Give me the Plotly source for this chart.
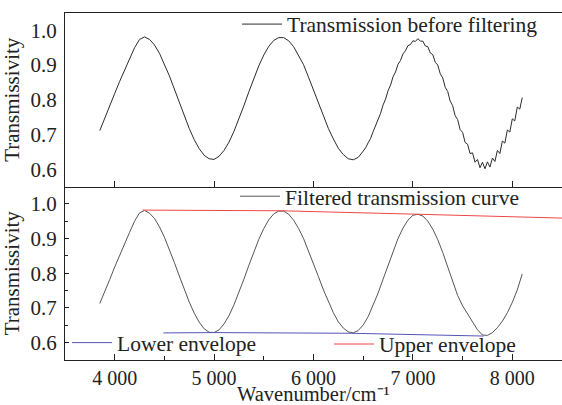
import plotly.graph_objects as go

# ---------------- data ----------------
# raw (unfiltered) transmission: smooth part (step 50) + noisy part (step 25)
raw_x_smooth = list(range(3850, 6500, 50))
raw_y_smooth = [
    0.711, 0.745, 0.782, 0.818, 0.853, 0.886, 0.918, 0.950, 0.974, 0.981,
    0.974, 0.958, 0.934, 0.904, 0.869, 0.831, 0.792, 0.753, 0.717, 0.685,
    0.659, 0.640, 0.630, 0.628, 0.637, 0.654, 0.678, 0.709, 0.745, 0.783,
    0.823, 0.862, 0.898, 0.929, 0.954, 0.971, 0.979, 0.979, 0.970, 0.953,
    0.929, 0.901, 0.865, 0.828, 0.791, 0.752, 0.717, 0.687, 0.660, 0.642,
    0.630, 0.627, 0.634,
]
raw_x_noisy = list(range(6500, 8101, 25))
raw_y_noisy = [
    0.652, 0.662, 0.676, 0.689, 0.708, 0.724, 0.745, 0.761, 0.785, 0.802,
    0.826, 0.842, 0.866, 0.880, 0.902, 0.913, 0.932, 0.941, 0.956, 0.959,
    0.970, 0.968, 0.976, 0.969, 0.969, 0.955, 0.953, 0.935, 0.930, 0.908,
    0.900, 0.875, 0.863, 0.836, 0.824, 0.796, 0.783, 0.754, 0.743, 0.714,
    0.706, 0.677, 0.672, 0.645, 0.647, 0.620, 0.628, 0.604, 0.620, 0.601,
    0.621, 0.606, 0.632, 0.622, 0.654, 0.645, 0.681, 0.675, 0.713, 0.707,
    0.745, 0.739, 0.779, 0.773, 0.806,
]
raw_x = raw_x_smooth + raw_x_noisy
raw_y = raw_y_smooth + raw_y_noisy

# filtered transmission curve
filt_x = list(range(3850, 8101, 50))
filt_y = [
    0.713, 0.745, 0.782, 0.818, 0.853, 0.886, 0.918, 0.950, 0.974, 0.981,
    0.973, 0.958, 0.934, 0.904, 0.869, 0.831, 0.792, 0.753, 0.717, 0.685,
    0.659, 0.640, 0.630, 0.629, 0.637, 0.654, 0.678, 0.709, 0.745, 0.783,
    0.823, 0.862, 0.898, 0.929, 0.954, 0.971, 0.979, 0.979, 0.970, 0.953,
    0.929, 0.900, 0.865, 0.828, 0.790, 0.752, 0.717, 0.686, 0.660, 0.642,
    0.631, 0.628, 0.635, 0.651, 0.675, 0.707, 0.743, 0.783, 0.824, 0.864,
    0.900, 0.930, 0.953, 0.967, 0.970, 0.965, 0.950, 0.927, 0.897, 0.860,
    0.820, 0.779, 0.736, 0.706, 0.682, 0.658, 0.637, 0.622, 0.621, 0.629,
    0.643, 0.662, 0.686, 0.716, 0.752, 0.798,
]

# envelopes
upper_x = [4280, 5680, 7055, 8500]
upper_y = [0.982, 0.980, 0.970, 0.959]
lower_x = [4490, 4983, 6385, 7712]
lower_y = [0.628, 0.629, 0.627, 0.619]

x_ticks = [4000, 5000, 6000, 7000, 8000]
x_tick_text = ["4 000", "5 000", "6 000", "7 000", "8 000"]
y_ticks = [0.6, 0.7, 0.8, 0.9, 1.0]
y_tick_text = ["0.6", "0.7", "0.8", "0.9", "1.0"]

# ---------------- figure ----------------
FONT = "Liberation Serif"
FS = 21
fig = go.Figure()

fig.add_trace(go.Scatter(x=raw_x, y=raw_y, mode="lines", xaxis="x", yaxis="y",
                         line=dict(color="#2b2b2b", width=1),
                         name="Transmission before filtering", legend="legend"))
fig.add_trace(go.Scatter(x=filt_x, y=filt_y, mode="lines", xaxis="x2", yaxis="y2",
                         line=dict(color="#555555", width=1),
                         name="Filtered transmission curve", legend="legend2"))
fig.add_trace(go.Scatter(x=lower_x, y=lower_y, mode="lines", xaxis="x2", yaxis="y2",
                         line=dict(color="rgb(85,85,185)", width=1),
                         name="Lower envelope", legend="legend3"))
fig.add_trace(go.Scatter(x=upper_x, y=upper_y, mode="lines", xaxis="x2", yaxis="y2",
                         line=dict(color="rgb(240,70,70)", width=1),
                         name="Upper envelope", legend="legend4"))

axis_common = dict(showline=True, linecolor="#222", linewidth=1, showgrid=False,
                   zeroline=False, tickcolor="#222", ticks="inside", automargin=False)

leg_common = dict(bgcolor="rgba(0,0,0,0)", borderwidth=0, xanchor="left",
                  yanchor="middle", font=dict(family=FONT, size=21.5, color="#222"),
                  itemclick=False, itemwidth=40)

fig.update_layout(
    width=562, height=405,
    margin=dict(l=65, r=0, t=13, b=45, autoexpand=False),
    paper_bgcolor="white", plot_bgcolor="white",
    font=dict(family=FONT, size=FS, color="#222"),
    showlegend=True,
    xaxis=dict(domain=[0, 1], anchor="y", range=[3500, 8500], tickvals=x_ticks,
               showticklabels=False, ticklen=6, mirror=True, **axis_common),
    yaxis=dict(domain=[0.5, 1], anchor="x", range=[0.55, 1.05], tickvals=y_ticks,
               ticktext=y_tick_text, ticklen=0, ticklabelstandoff=3,
               tickfont=dict(family=FONT, size=FS, color="#222"),
               title=dict(text="Transmissivity", standoff=5,
                          font=dict(family=FONT, size=FS)), **axis_common),
    xaxis2=dict(domain=[0, 1], anchor="y2", range=[3500, 8500], tickvals=x_ticks,
                ticktext=x_tick_text, ticklen=6, ticklabelstandoff=0,
                tickfont=dict(family=FONT, size=20, color="#222"),
                minor=dict(dtick=500, tick0=3500, ticks="inside", ticklen=4, tickcolor="#222"),
                **axis_common),
    yaxis2=dict(domain=[0, 0.5], anchor="x2", range=[0.55, 1.05], tickvals=y_ticks,
                ticktext=y_tick_text, ticklen=4, ticklabelstandoff=3,
                tickfont=dict(family=FONT, size=FS, color="#222"),
                minor=dict(dtick=0.05, tick0=0.55, ticks="inside", ticklen=3, tickcolor="#222"),
                title=dict(text="Transmissivity", standoff=5,
                           font=dict(family=FONT, size=FS)), **axis_common),
    annotations=[dict(text="Wavenumber/cm⁻¹", xref="paper", yref="paper",
                      x=0.5, y=-34 / 347, xanchor="center", yanchor="middle",
                      showarrow=False, font=dict(family=FONT, size=20.5, color="#222"))],
    legend=dict(x=(237 - 65) / 497, y=0.968, **leg_common),
    legend2=dict(x=(235 - 65) / 497, y=0.472, **leg_common),
    legend3=dict(x=(67 - 65) / 497, y=0.050, **leg_common),
    legend4=dict(x=(329 - 65) / 497, y=0.046, **leg_common),
)

fig.write_html("out.html")
